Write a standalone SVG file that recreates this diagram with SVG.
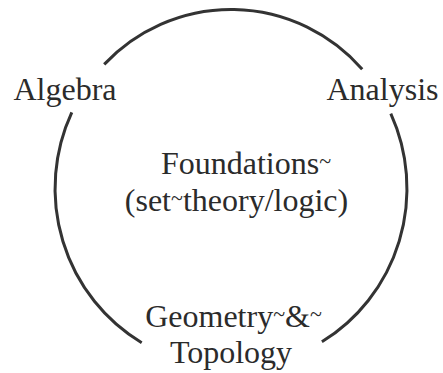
<svg xmlns="http://www.w3.org/2000/svg" width="443" height="373" viewBox="0 0 443 373">
<style>
.bg{fill:#ffffff}
.arc{fill:none;stroke:#333333;stroke-width:3;stroke-linecap:butt}
.lbl{font-family:'Liberation Serif','Times New Roman',serif;font-size:32px;fill:#2b2b2b;text-anchor:middle}
.t{font-size:22px;baseline-shift:6px}
</style>
<rect class="bg" x="0" y="0" width="443" height="373"/>
<g id="connectors">
<path class="arc" d="M104.2,64.4 A176,179 0 0 1 362.2,69.2"/>
<path class="arc" d="M390.8,113.6 A176,179 0 0 1 321.9,341.8"/>
<path class="arc" d="M141.7,342.7 A176,179 0 0 1 71.8,112.3"/>
</g>
<g id="algebra"><text class="lbl" x="65" y="100">Algebra</text></g>
<g id="analysis"><text class="lbl" x="382.5" y="100">Analysis</text></g>
<g id="foundations"><text class="lbl" x="246" y="174">Foundations<tspan class="t">~</tspan></text><text class="lbl" x="236.5" y="211">(set<tspan class="t">~</tspan>theory/logic)</text></g>
<g id="geometry"><text class="lbl" x="233.5" y="327">Geometry<tspan class="t">~</tspan>&amp;<tspan class="t">~</tspan></text><text class="lbl" x="231" y="363">Topology</text></g>
</svg>
